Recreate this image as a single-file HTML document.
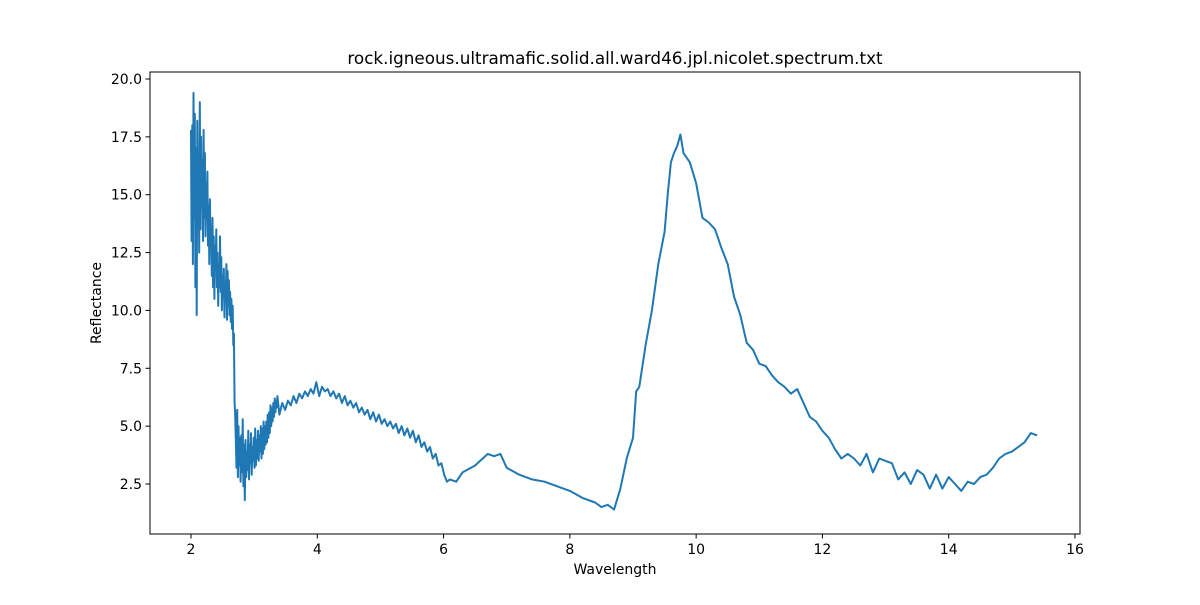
<!DOCTYPE html>
<html><head><meta charset="utf-8"><style>
body{margin:0;background:#fff;font-family:"Liberation Sans","DejaVu Sans",sans-serif;}
svg text{font-family:"DejaVu Sans","Liberation Sans",sans-serif;fill:#000;}
</style></head><body>
<svg id="chart" width="1200" height="600" xmlns="http://www.w3.org/2000/svg">
<rect width="1200" height="600" fill="#fff"/>
<text x="615" y="64" font-size="16.8" text-anchor="middle">rock.igneous.ultramafic.solid.all.ward46.jpl.nicolet.spectrum.txt</text>
<g id="plot"></g>
<rect x="150" y="72" width="930" height="462" fill="none" stroke="#000" stroke-width="1"/>
<g id="xt"></g><g id="yt"></g>
<text x="615" y="574" font-size="14" text-anchor="middle">Wavelength</text>
<text transform="translate(101,303) rotate(-90)" font-size="14" text-anchor="middle">Reflectance</text>
</svg>
<script>
const xTicks=[2,4,6,8,10,12,14,16];
const yTicks=[2.5,5.0,7.5,10.0,12.5,15.0,17.5,20.0];
const noisyA=[17.8,13,18,12,19.4,14,18.5,11,17,9.8,18.2,15,16,12.5,19,13.5,17.5,14.5,16.5,13,17.8,14,16.8,13.2,15.5,14,16,12.8,14.5,12,14.8,13,13.5,11.5,14,11,13.2,10.5,12.8,11.8,13.5,11,12.5,10.2,12,11,13.2,10.8,12.3,10,11.5,10.6,11.8,9.7,11.2,10.4,12,9.6,11.7,10.2,11.3,9.8,10.8,9.5,10.5,9.2,10.2,8.5,9,6,5.5];
const noisyB=[3.2,5.7,2.8,5,3.3,4.5,2.6,4.6,3,5.3,2.4,4.2,1.8,4.4,2.8,3.9,3.1,4.8,2.7,4.2,3.4,4.7,2.9,4.1,3.5,4.5,3.2,4.9,3.3,4.4,3.6,4.8,3.5,4.6,3.9,5,3.6,4.9,3.8,5.2,4,5,4.2,5.2,4.3,5.5,4.5,5.6,4.7,5.9,5,5.8,5.2,6,5.4,6.2,5.6,6.1,5.8,6.3];
const noisyC=[5.5,6.0,5.7,6.1,5.9,6.3,6.0,6.4,6.2,6.5,6.3,6.6,6.4,6.9,6.3,6.7,6.5,6.6,6.3,6.5,6.2,6.4,6.0,6.3,5.9,6.1,5.8,6.0,5.6,5.8,5.5,5.7,5.3,5.6,5.2,5.5,5.1,5.3,5.0,5.2,4.9,5.1,4.7,5.0,4.6,4.9,4.5,4.8,4.3,4.6,4.1,4.3,3.9,4.1,3.6,3.8,3.3,3.4,2.9,2.6];
const smoothX=[6.1,6.2,6.3,6.5,6.7,6.8,6.9,7.0,7.2,7.4,7.6,7.8,8.0,8.2,8.4,8.5,8.6,8.7,8.8,8.9,9.0,9.05,9.1,9.2,9.3,9.4,9.5,9.55,9.6,9.65,9.7,9.75,9.8,9.9,10.0,10.1,10.2,10.3,10.4,10.5,10.6,10.7,10.8,10.9,11.0,11.1,11.2,11.3,11.4,11.5,11.6,11.7,11.8,11.9,12.0,12.1,12.2,12.3,12.4,12.5,12.6,12.7,12.8,12.9,13.0,13.1,13.2,13.3,13.4,13.5,13.6,13.7,13.8,13.9,14.0,14.1,14.2,14.3,14.4,14.5,14.6,14.7,14.8,14.9,15.0,15.1,15.2,15.3,15.4];
const smoothY=[2.7,2.6,3.0,3.3,3.8,3.7,3.8,3.2,2.9,2.7,2.6,2.4,2.2,1.9,1.7,1.5,1.6,1.4,2.3,3.6,4.5,6.5,6.7,8.5,10.0,12.0,13.4,15.0,16.4,16.8,17.1,17.6,16.8,16.4,15.5,14.0,13.8,13.5,12.7,12.0,10.6,9.8,8.6,8.3,7.7,7.6,7.2,6.9,6.7,6.4,6.6,6.0,5.4,5.2,4.8,4.5,4.0,3.6,3.8,3.6,3.3,3.8,3.0,3.6,3.5,3.4,2.7,3.0,2.5,3.1,2.9,2.3,2.9,2.3,2.8,2.5,2.2,2.6,2.5,2.8,2.9,3.2,3.6,3.8,3.9,4.1,4.3,4.7,4.6];
const X=v=>191+(v-2)*63.143, Y=v=>484-(v-2.5)*23.143;
const ns='http://www.w3.org/2000/svg';
let pts=[];
noisyA.forEach((v,i)=>pts.push([2+i*0.01,v]));
noisyB.forEach((v,i)=>pts.push([2.72+i*0.011,v]));
noisyC.forEach((v,i)=>pts.push([3.4+i*0.045,v]));
smoothX.forEach((x,i)=>pts.push([x,smoothY[i]]));
const line=document.createElementNS(ns,'polyline');


line.setAttribute('points',pts.map(p=>X(p[0]).toFixed(1)+','+Y(p[1]).toFixed(1)).join(' '));
line.setAttribute('fill','none');line.setAttribute('stroke','#1f77b4');line.setAttribute('stroke-width','2');line.setAttribute('stroke-linejoin','round');
document.getElementById('plot').appendChild(line);
const xt=document.getElementById('xt');
xTicks.forEach(t=>{const g=document.createElementNS(ns,'g');


g.innerHTML=`<line x1="${X(t)}" x2="${X(t)}" y1="534" y2="538.5" stroke="#000"/><text x="${X(t)}" y="554" font-size="14" text-anchor="middle">${t}</text>`;xt.appendChild(g);});
const yt=document.getElementById('yt');
yTicks.forEach(t=>{const g=document.createElementNS(ns,'g');


g.innerHTML=`<line x1="145.5" x2="150" y1="${Y(t)}" y2="${Y(t)}" stroke="#000"/><text x="142" y="${Y(t)+5}" font-size="14" text-anchor="end">${t.toFixed(1)}</text>`;yt.appendChild(g);});
</script>
</body></html>
